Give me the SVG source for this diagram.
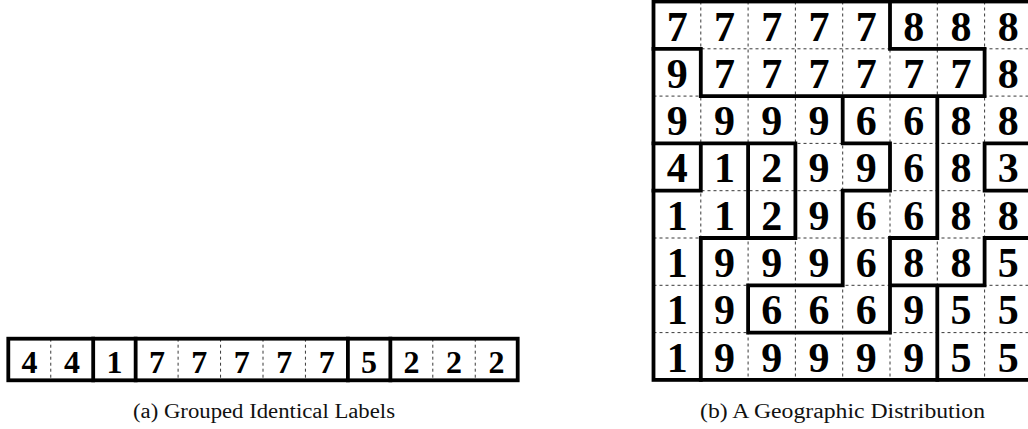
<svg xmlns="http://www.w3.org/2000/svg" width="1028" height="429" viewBox="0 0 1028 429">
  <style>
    .bg { fill: #ffffff; }
    .dash { stroke: #222; stroke-width: 0.9; stroke-dasharray: 3 3; fill: none; }
    .thick { stroke: #000; stroke-width: 3.8; stroke-linecap: square; fill: none; }
    .num { font-family: 'Liberation Serif', 'Times New Roman', serif; font-weight: bold; fill: #000; text-anchor: middle; }
    .big { font-size: 42px; }
    .small { font-size: 32px; }
    .cap { font-family: 'Liberation Serif', 'Times New Roman', serif; font-size: 20px; fill: #111; text-anchor: middle; }
  </style>
  <rect class="bg" x="0" y="0" width="1028" height="429"/>

  <!-- (a) one-dimensional strip of labels -->
  <g id="strip">
    <path class="dash" d="M50.75 338.7V380.3 M178.1 338.7V380.3 M220.55 338.7V380.3 M263 338.7V380.3 M305.45 338.7V380.3 M432.8 338.7V380.3 M475.25 338.7V380.3"/>
    <rect class="thick" x="8.3" y="338.7" width="509.4" height="41.6"/>
    <path class="thick" d="M93.2 338.7V380.3 M135.65 338.7V380.3 M347.9 338.7V380.3 M390.35 338.7V380.3"/>
    <g class="num small">
      <text x="29.5" y="373.3">4</text>
      <text x="72" y="373.3">4</text>
      <text x="114.4" y="373.3">1</text>
      <text x="156.9" y="373.3">7</text>
      <text x="199.3" y="373.3">7</text>
      <text x="241.8" y="373.3">7</text>
      <text x="284.2" y="373.3">7</text>
      <text x="326.7" y="373.3">7</text>
      <text x="369.1" y="373.3">5</text>
      <text x="411.6" y="373.3">2</text>
      <text x="454" y="373.3">2</text>
      <text x="496.5" y="373.3">2</text>
    </g>
  </g>

  <!-- (b) 8x8 map of labelled regions -->
  <g id="grid">
    <!-- cell separators inside a region -->
    <path class="dash" d="M700.8 1.5V379.9 M748.1 1.5V379.9 M795.4 1.5V379.9 M842.7 1.5V379.9 M890 1.5V379.9 M937.3 1.5V379.9 M984.6 1.5V379.9
      M653.5 48.8H1031.9 M653.5 96.1H1031.9 M653.5 143.4H1031.9 M653.5 190.7H1031.9 M653.5 238H1031.9 M653.5 285.3H1031.9 M653.5 332.6H1031.9"/>
    <!-- region boundaries -->
    <rect class="thick" x="653.5" y="1.5" width="378.4" height="378.4"/>
    <path class="thick" d="
      M653.5 48.8H700.8 M890 48.8H984.6
      M700.8 96.1H984.6
      M653.5 143.4H795.4 M842.7 143.4H890 M984.6 143.4H1031.9
      M653.5 190.7H700.8 M842.7 190.7H890 M984.6 190.7H1031.9
      M700.8 238H795.4 M890 238H937.3 M984.6 238H1031.9
      M748.1 285.3H842.7 M890 285.3H984.6
      M748.1 332.6H890
      M700.8 48.8V96.1 M700.8 143.4V190.7 M700.8 238V379.9
      M748.1 143.4V238 M748.1 285.3V332.6
      M795.4 143.4V238
      M842.7 96.1V143.4 M842.7 190.7V285.3
      M890 1.5V48.8 M890 143.4V190.7 M890 238V332.6
      M937.3 96.1V238 M937.3 285.3V379.9
      M984.6 48.8V96.1 M984.6 143.4V190.7 M984.6 238V285.3"/>
    <g class="num big">
      <!-- row 1 -->
      <text x="677.15" y="40.5">7</text><text x="724.45" y="40.5">7</text><text x="771.75" y="40.5">7</text><text x="819.05" y="40.5">7</text>
      <text x="866.35" y="40.5">7</text><text x="913.65" y="40.5">8</text><text x="960.95" y="40.5">8</text><text x="1008.25" y="40.5">8</text>
      <!-- row 2 -->
      <text x="677.15" y="87.8">9</text><text x="724.45" y="87.8">7</text><text x="771.75" y="87.8">7</text><text x="819.05" y="87.8">7</text>
      <text x="866.35" y="87.8">7</text><text x="913.65" y="87.8">7</text><text x="960.95" y="87.8">7</text><text x="1008.25" y="87.8">8</text>
      <!-- row 3 -->
      <text x="677.15" y="135.1">9</text><text x="724.45" y="135.1">9</text><text x="771.75" y="135.1">9</text><text x="819.05" y="135.1">9</text>
      <text x="866.35" y="135.1">6</text><text x="913.65" y="135.1">6</text><text x="960.95" y="135.1">8</text><text x="1008.25" y="135.1">8</text>
      <!-- row 4 -->
      <text x="677.15" y="182.4">4</text><text x="724.45" y="182.4">1</text><text x="771.75" y="182.4">2</text><text x="819.05" y="182.4">9</text>
      <text x="866.35" y="182.4">9</text><text x="913.65" y="182.4">6</text><text x="960.95" y="182.4">8</text><text x="1008.25" y="182.4">3</text>
      <!-- row 5 -->
      <text x="677.15" y="229.7">1</text><text x="724.45" y="229.7">1</text><text x="771.75" y="229.7">2</text><text x="819.05" y="229.7">9</text>
      <text x="866.35" y="229.7">6</text><text x="913.65" y="229.7">6</text><text x="960.95" y="229.7">8</text><text x="1008.25" y="229.7">8</text>
      <!-- row 6 -->
      <text x="677.15" y="277">1</text><text x="724.45" y="277">9</text><text x="771.75" y="277">9</text><text x="819.05" y="277">9</text>
      <text x="866.35" y="277">6</text><text x="913.65" y="277">8</text><text x="960.95" y="277">8</text><text x="1008.25" y="277">5</text>
      <!-- row 7 -->
      <text x="677.15" y="324.3">1</text><text x="724.45" y="324.3">9</text><text x="771.75" y="324.3">6</text><text x="819.05" y="324.3">6</text>
      <text x="866.35" y="324.3">6</text><text x="913.65" y="324.3">9</text><text x="960.95" y="324.3">5</text><text x="1008.25" y="324.3">5</text>
      <!-- row 8 -->
      <text x="677.15" y="371.6">1</text><text x="724.45" y="371.6">9</text><text x="771.75" y="371.6">9</text><text x="819.05" y="371.6">9</text>
      <text x="866.35" y="371.6">9</text><text x="913.65" y="371.6">9</text><text x="960.95" y="371.6">5</text><text x="1008.25" y="371.6">5</text>
    </g>
  </g>

  <!-- captions -->
  <g id="captions">
    <text class="cap" x="264" y="418" textLength="262" lengthAdjust="spacingAndGlyphs">(a) Grouped Identical Labels</text>
    <text class="cap" x="842.5" y="418" textLength="285" lengthAdjust="spacingAndGlyphs">(b) A Geographic Distribution</text>
  </g>
</svg>
